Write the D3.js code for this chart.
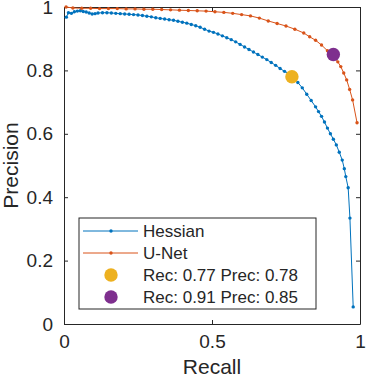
<!DOCTYPE html>
<html>
<head>
<meta charset="utf-8">
<script src="https://cdn.jsdelivr.net/npm/d3@7"></script>
<style>
  body { margin: 0; background: #fff; }
  text { font-family: "Liberation Sans", Arial, sans-serif; fill: #262626; }
</style>
</head>
<body>
<div id="container"></div>
<script>
let w = 366;
let h = 377;

// data: [recall, precision]
let hessianPts = [
  [0.008,0.968],[0.015,0.982],[0.025,0.980],[0.035,0.985],[0.045,0.987],[0.055,0.988],
  [0.065,0.986],[0.075,0.984],[0.085,0.981],[0.095,0.978],[0.105,0.979],[0.115,0.981],
  [0.13,0.982],[0.145,0.982],[0.16,0.981],[0.175,0.980],[0.19,0.979],[0.205,0.978],
  [0.22,0.977],[0.235,0.976],[0.25,0.975],[0.265,0.973],[0.28,0.971],[0.295,0.969],
  [0.31,0.966],[0.325,0.964],[0.34,0.962],[0.355,0.960],[0.37,0.958],[0.385,0.955],
  [0.40,0.952],[0.415,0.949],[0.43,0.945],[0.445,0.941],[0.46,0.936],[0.475,0.930],
  [0.49,0.924],[0.505,0.920],[0.52,0.915],[0.535,0.909],[0.55,0.903],[0.565,0.897],
  [0.58,0.890],[0.595,0.882],[0.61,0.874],[0.625,0.866],[0.64,0.858],[0.655,0.850],
  [0.67,0.842],[0.685,0.834],[0.70,0.825],[0.715,0.816],[0.73,0.806],[0.745,0.797],
  [0.76,0.788],[0.775,0.776],[0.79,0.762],[0.805,0.745],[0.82,0.725],[0.835,0.705],
  [0.85,0.685],[0.86,0.670],[0.87,0.655],[0.88,0.637],[0.89,0.618],[0.90,0.600],
  [0.91,0.583],[0.92,0.565],[0.93,0.542],[0.94,0.517],[0.947,0.490],[0.952,0.465],
  [0.96,0.430],[0.966,0.334],[0.977,0.054]
];
let unetPts = [
  [0.007,1.0],[0.03,0.997],[0.06,0.996],[0.09,0.996],[0.12,0.995],[0.15,0.995],
  [0.18,0.995],[0.21,0.994],[0.24,0.994],[0.27,0.993],[0.30,0.993],[0.33,0.992],
  [0.36,0.991],[0.39,0.990],[0.42,0.989],[0.45,0.988],[0.48,0.987],[0.51,0.985],
  [0.54,0.983],[0.57,0.980],[0.60,0.976],[0.63,0.972],[0.66,0.965],[0.69,0.956],
  [0.72,0.948],[0.75,0.940],[0.78,0.930],[0.81,0.918],[0.83,0.906],[0.85,0.895],
  [0.87,0.880],[0.89,0.862],[0.905,0.850],[0.915,0.840],[0.925,0.827],[0.935,0.812],
  [0.945,0.792],[0.955,0.770],[0.965,0.740],[0.975,0.707],[0.99,0.635]
];
let opPoints = [[0.77, 0.78], [0.91, 0.85]];
let legendLabels = ["Hessian", "U-Net", "Rec: 0.77 Prec: 0.78", "Rec: 0.91 Prec: 0.85"];
let xTicks = [0, 0.5, 1];
let yTicks = [0, 0.2, 0.4, 0.6, 0.8, 1];

let colors = ["#0072BD", "#D95319", "#EDB120", "#7E2F8E"];

let viz = d3.select("#container").append("svg")
  .attr("width", w)
  .attr("height", h);

let xScale = d3.scaleLinear().domain([0, 1]).range([64, 360]);
let yScale = d3.scaleLinear().domain([0, 1]).range([324, 7]);

function styleAxis(g){
  g.selectAll("path.domain").attr("stroke", "#262626");
  g.selectAll("line").attr("stroke", "#262626");
  g.selectAll("text").style("font-size", "19px").attr("fill", "#262626");
}

// axes, ticks pointing inward like matlab
let xAxis = viz.append("g").attr("transform", "translate(0,324)")
  .call(d3.axisBottom(xScale).tickValues(xTicks).tickSize(-4).tickSizeOuter(0).tickPadding(11).tickFormat(d3.format("")));
styleAxis(xAxis);
let yAxis = viz.append("g").attr("transform", "translate(64,0)")
  .call(d3.axisLeft(yScale).tickValues(yTicks).tickSize(-4).tickSizeOuter(0).tickPadding(11).tickFormat(d3.format("")));
styleAxis(yAxis);
let topAxis = viz.append("g").attr("transform", "translate(0,7)")
  .call(d3.axisTop(xScale).tickValues(xTicks).tickSize(-4).tickSizeOuter(0).tickFormat(""));
styleAxis(topAxis);
let rightAxis = viz.append("g").attr("transform", "translate(360,0)")
  .call(d3.axisRight(yScale).tickValues(yTicks).tickSize(-4).tickSizeOuter(0).tickFormat(""));
styleAxis(rightAxis);

let line = d3.line().x(d => xScale(d[0])).y(d => yScale(d[1]));

[hessianPts, unetPts].forEach(function(pts, i){
  viz.append("path").datum(pts)
    .attr("d", line)
    .attr("fill", "none")
    .attr("stroke", colors[i])
    .attr("stroke-width", 1);
  viz.append("g").selectAll("circle").data(pts).enter().append("circle")
    .attr("cx", d => xScale(d[0]))
    .attr("cy", d => yScale(d[1]))
    .attr("r", 1.7)
    .attr("fill", colors[i]);
});

viz.append("g").selectAll("circle").data(opPoints).enter().append("circle")
  .attr("cx", d => xScale(d[0]))
  .attr("cy", d => yScale(d[1]))
  .attr("r", 6.7)
  .attr("fill", (d, i) => colors[i + 2]);

// legend
let legend = viz.append("g");
legend.append("rect")
  .attr("x", 79).attr("y", 218).attr("width", 237).attr("height", 91)
  .attr("fill", "#fff").attr("stroke", "#262626").attr("stroke-width", 1);
legendLabels.forEach(function(lab, i){
  let yy = 231 + i * 22;
  if (i < 2) {
    legend.append("line").attr("x1", 83).attr("x2", 138).attr("y1", yy).attr("y2", yy)
      .attr("stroke", colors[i]).attr("stroke-width", 1);
    legend.append("circle").attr("cx", 111).attr("cy", yy).attr("r", 1.7).attr("fill", colors[i]);
  } else {
    legend.append("circle").attr("cx", 111).attr("cy", yy).attr("r", 6.7).attr("fill", colors[i]);
  }
  legend.append("text").attr("x", 143).attr("y", yy).attr("dy", "0.35em")
    .style("font-size", "17px").text(lab);
});

viz.append("text").attr("x", 212).attr("y", 374)
  .attr("text-anchor", "middle").style("font-size", "21px").text("Recall");
viz.append("text").attr("transform", "translate(18,165.5) rotate(-90)")
  .attr("text-anchor", "middle").style("font-size", "21px").text("Precision");
</script>
</body>
</html>
